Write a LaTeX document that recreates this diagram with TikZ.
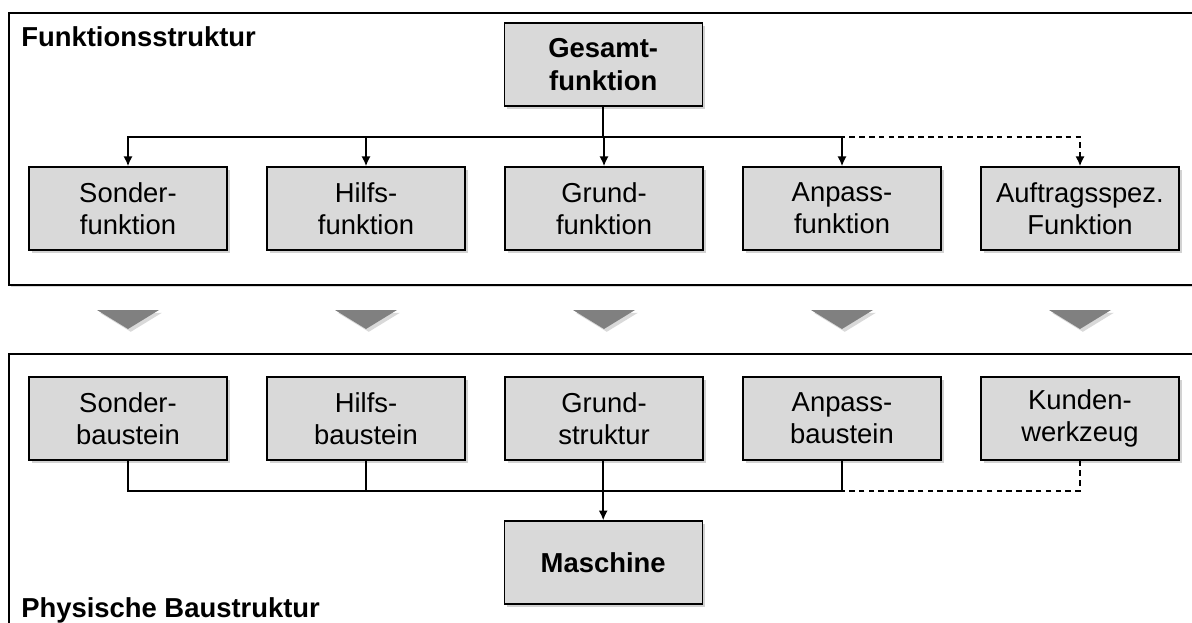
\documentclass[tikz,border=0pt]{standalone}
\usepackage{fontspec}
\setmainfont{Liberation Sans}
\usetikzlibrary{shadows,arrows.meta}
\definecolor{boxgray}{RGB}{217,217,217}
\definecolor{wedgegray}{RGB}{128,128,128}

\begin{document}
\begin{tikzpicture}[block/.style={draw,line width=0.9pt,fill=boxgray,minimum width=4.95cm,minimum height=2.075cm,
                        align=center,font=\fontsize{19.5}{23}\selectfont,
                        drop shadow={shadow xshift=2pt,shadow yshift=-2pt,opacity=0.35}},
                        translate/.style={-{Latex[length=7pt,width=6.5pt]},line width=1.3pt},
                        link/.style={line width=1.3pt},
                        optional/.style={dash pattern=on 4pt off 3pt},
                        frame/.style={draw,line width=1.1pt,fill=white,
                        drop shadow={shadow xshift=1.5pt,shadow yshift=-1.5pt,opacity=0.3}},
                        title/.style={font=\fontsize{19.5}{23}\selectfont\bfseries,inner sep=0pt}]
      \useasboundingbox (0,0) rectangle (29.8,15.55);

      % frames
      \path[frame] (0.225,8.425) rectangle (30.5,15.225);
      \path[frame] (0.225,-1) rectangle (30.5,6.7);
      \node[title,anchor=base west] (fs) at (0.525,14.375) {Funktionsstruktur};
      \node[title,anchor=base west] (pb) at (0.525,0.125) {Physische Baustruktur};

      % functions
      \node[block,font=\fontsize{19.5}{23}\selectfont\bfseries] (gesamt) at (15.08,13.94) {Gesamt-\\funktion};
      \node[block] (sonderf) at (3.2,10.34) {Sonder-\\funktion};
      \node[block] (hilfsf) at (9.15,10.34) {Hilfs-\\funktion};
      \node[block] (grundf) at (15.1,10.34) {Grund-\\funktion};
      \node[block] (anpassf) at (21.05,10.34) {Anpass-\\funktion};
      \node[block] (auftragf) at (27.0,10.34) {Auftragsspez.\\Funktion};

      \coordinate (bus1) at (15.08,12.125);
      \draw[link] (gesamt) -- (bus1);
      \foreach \n in {sonderf,hilfsf,grundf,anpassf}
        \draw[translate] (bus1) -| (\n);
      \draw[translate,optional] (bus1) -| (auftragf);

      % wedges
      \foreach \x in {3.2,9.15,15.1,21.05,27.0}
        \fill[wedgegray,drop shadow={shadow xshift=2pt,shadow yshift=-2pt,opacity=0.3}]
          (\x-0.775,7.8) -- (\x+0.775,7.8) -- (\x,7.325) -- cycle;

      % modules
      \node[block] (sonderb) at (3.2,5.0875) {Sonder-\\baustein};
      \node[block] (hilfsb) at (9.15,5.0875) {Hilfs-\\baustein};
      \node[block] (grundb) at (15.1,5.0875) {Grund-\\struktur};
      \node[block] (anpassb) at (21.05,5.0875) {Anpass-\\baustein};
      \node[block] (kundenb) at (27.0,5.0875) {Kunden-\\werkzeug};
      \node[block,font=\fontsize{19.5}{23}\selectfont\bfseries] (maschine) at (15.08,1.4875) {Maschine};

      \coordinate (bus2) at (15.08,3.275);
      \foreach \n in {sonderb,hilfsb,anpassb}
        \draw[link] (\n) |- (bus2);
      \draw[link,optional] (kundenb) |- (bus2);
      \draw[translate] (grundb.south -| bus2) -- (maschine);
    \end{tikzpicture}
\end{document}
